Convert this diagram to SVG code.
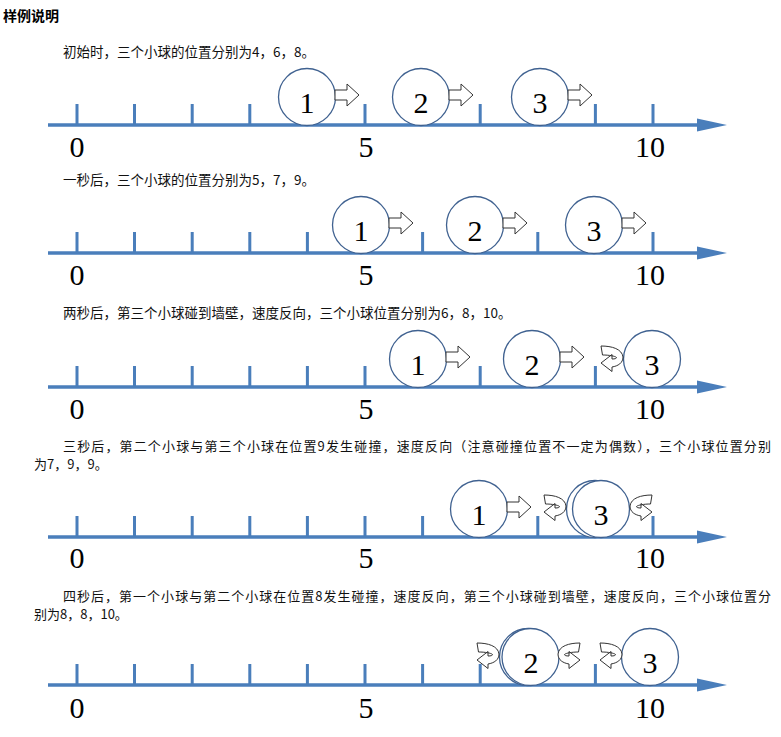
<svg xmlns="http://www.w3.org/2000/svg" xmlns:xlink="http://www.w3.org/1999/xlink" width="781" height="737" viewBox="0 0 781 737">
<style>
.cap{font-family:"Noto Sans CJK SC","Liberation Sans",sans-serif;font-size:13.5px;fill:#111}
.cap2{font-family:"Noto Sans CJK SC","Liberation Sans",sans-serif;font-size:13px;fill:#111}
.title{font-family:"Noto Sans CJK SC","Liberation Sans",sans-serif;font-size:14px;font-weight:bold;fill:#000}
.num{font-family:"Liberation Serif",serif;font-size:30px;fill:#000;text-anchor:middle}
.ball{fill:#fff;stroke:#3F6190;stroke-width:1.3}
.blk{fill:#fff;stroke:#333;stroke-width:1;stroke-linejoin:miter}
</style>
<defs>
<g id="axis">
<line x1="48" y1="0" x2="700" y2="0" stroke="#4A7EBB" stroke-width="3.5"/>
<polygon points="697,-6.5 727,0 697,6.5" fill="#4A7EBB"/>
<g fill="#4A7EBB">
<rect x="75.5" y="-21" width="3" height="21"/>
<rect x="133" y="-21" width="3" height="21"/>
<rect x="190.7" y="-21" width="3" height="21"/>
<rect x="248.3" y="-21" width="3" height="21"/>
<rect x="305.9" y="-21" width="3" height="21"/>
<rect x="363.5" y="-21" width="3" height="21"/>
<rect x="421.1" y="-21" width="3" height="21"/>
<rect x="478.7" y="-21" width="3" height="21"/>
<rect x="536.3" y="-21" width="3" height="21"/>
<rect x="593.9" y="-21" width="3" height="21"/>
<rect x="651.5" y="-21" width="3" height="21"/>
</g>
</g>
<path id="rarrow" class="blk" d="M0,-5 H12 V-11 L24,0 L12,11 V5 H0 Z"/>
<path id="uturn" class="blk" d="M0,0 C11,0 21,3 22,11 C22,17 17,20 11,21 L11,25.5 L0,17 L11,8.5 L11,13 C14,13 15.5,12.5 15.5,11.5 C14,10 8,9 1.5,9 Z"/>
</defs>

<text class="title" x="3" y="21">样例说明</text>

<!-- Row 1 -->
<g id="row1">
<text class="cap" x="63" y="57">初始时，三个小球的位置分别为4，6，8。</text>
<use xlink:href="#axis" transform="translate(0,125)"/>
<text class="num" x="77" y="157">0</text>
<text class="num" x="366" y="157">5</text>
<text class="num" x="650" y="157">10</text>
<g id="r1b1"><circle class="ball" cx="307" cy="97" r="28.5"/><text class="num" x="307" y="113">1</text><use xlink:href="#rarrow" transform="translate(335,95)"/></g>
<g id="r1b2"><circle class="ball" cx="421" cy="97" r="28.5"/><text class="num" x="421" y="113">2</text><use xlink:href="#rarrow" transform="translate(449,95)"/></g>
<g id="r1b3"><circle class="ball" cx="540" cy="97" r="28.5"/><text class="num" x="540" y="113">3</text><use xlink:href="#rarrow" transform="translate(568,95)"/></g>
</g>

<!-- Row 2 -->
<g id="row2">
<text class="cap" x="63" y="185">一秒后，三个小球的位置分别为5，7，9。</text>
<use xlink:href="#axis" transform="translate(0,253)"/>
<text class="num" x="77" y="285">0</text>
<text class="num" x="366" y="285">5</text>
<text class="num" x="650" y="285">10</text>
<g id="r2b1"><circle class="ball" cx="361" cy="225" r="28.5"/><text class="num" x="361" y="241">1</text><use xlink:href="#rarrow" transform="translate(389,223)"/></g>
<g id="r2b2"><circle class="ball" cx="475" cy="225" r="28.5"/><text class="num" x="475" y="241">2</text><use xlink:href="#rarrow" transform="translate(503,223)"/></g>
<g id="r2b3"><circle class="ball" cx="594" cy="225" r="28.5"/><text class="num" x="594" y="241">3</text><use xlink:href="#rarrow" transform="translate(622,223)"/></g>
</g>

<!-- Row 3 -->
<g id="row3">
<text class="cap" x="63" y="318">两秒后，第三个小球碰到墙壁，速度反向，三个小球位置分别为6，8，10。</text>
<use xlink:href="#axis" transform="translate(0,387)"/>
<text class="num" x="77" y="419">0</text>
<text class="num" x="366" y="419">5</text>
<text class="num" x="650" y="419">10</text>
<g id="r3b1"><circle class="ball" cx="418" cy="359" r="28.5"/><text class="num" x="418" y="375">1</text><use xlink:href="#rarrow" transform="translate(446,357)"/></g>
<g id="r3b2"><circle class="ball" cx="532" cy="359" r="28.5"/><text class="num" x="532" y="375">2</text><use xlink:href="#rarrow" transform="translate(560,357)"/></g>
<g id="r3b3"><circle class="ball" cx="652" cy="359" r="28.5"/><text class="num" x="652" y="375">3</text><use xlink:href="#uturn" transform="translate(601,346)"/></g>
</g>

<!-- Row 4 -->
<g id="row4">
<text class="cap2" x="63" y="451" textLength="708" lengthAdjust="spacing">三秒后，第二个小球与第三个小球在位置9发生碰撞，速度反向（注意碰撞位置不一定为偶数），三个小球位置分别</text>
<text class="cap2" x="34" y="469">为7，9，9。</text>
<use xlink:href="#axis" transform="translate(0,537)"/>
<text class="num" x="77" y="568">0</text>
<text class="num" x="366" y="568">5</text>
<text class="num" x="650" y="568">10</text>
<g id="r4b1"><circle class="ball" cx="479" cy="509" r="28.5"/><text class="num" x="479" y="525">1</text><use xlink:href="#rarrow" transform="translate(507,507)"/></g>
<g id="r4b2"><circle class="ball" cx="595" cy="509" r="28.5"/></g>
<g id="r4b3"><circle class="ball" cx="601" cy="509" r="28.5"/><text class="num" x="601" y="525">3</text>
<use xlink:href="#uturn" transform="translate(544,495)"/>
<use xlink:href="#uturn" transform="translate(652,495) scale(-1,1)"/></g>
</g>

<!-- Row 5 -->
<g id="row5">
<text class="cap2" x="63" y="601" textLength="708" lengthAdjust="spacing">四秒后，第一个小球与第二个小球在位置8发生碰撞，速度反向，第三个小球碰到墙壁，速度反向，三个小球位置分</text>
<text class="cap2" x="34" y="619">别为8，8，10。</text>
<use xlink:href="#axis" transform="translate(0,685)"/>
<text class="num" x="77" y="718">0</text>
<text class="num" x="366" y="718">5</text>
<text class="num" x="650" y="718">10</text>
<g id="r5b1"><circle class="ball" cx="528" cy="657" r="28.5"/></g>
<g id="r5b2"><circle class="ball" cx="530.5" cy="657" r="28.5"/><text class="num" x="531" y="673">2</text>
<use xlink:href="#uturn" transform="translate(477,643)"/>
<use xlink:href="#uturn" transform="translate(580,643) scale(-1,1)"/></g>
<g id="r5b3"><circle class="ball" cx="650" cy="657" r="28.5"/><text class="num" x="650" y="673">3</text><use xlink:href="#uturn" transform="translate(600,643)"/></g>
</g>
</svg>
